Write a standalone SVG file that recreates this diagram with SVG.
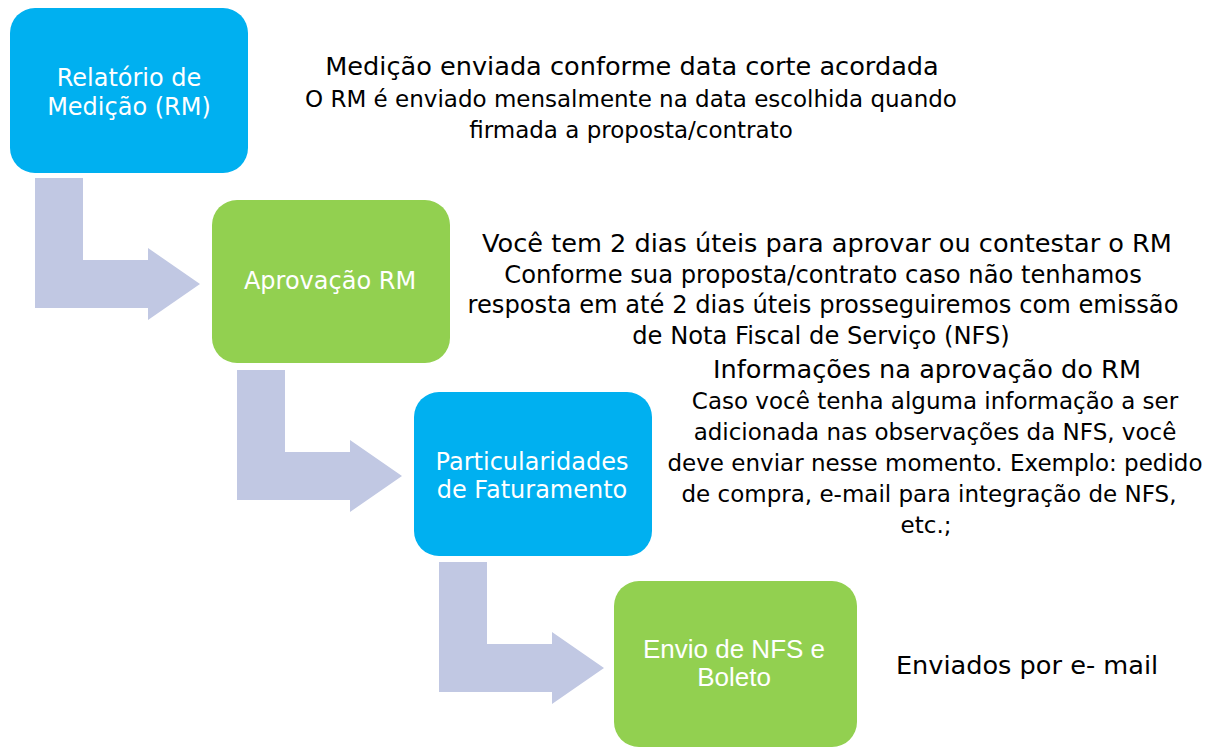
<svg xmlns="http://www.w3.org/2000/svg" width="1211" height="747" viewBox="0 0 1211 747">
<style>
.blue{fill:#00B0F0}
.green{fill:#92D050}
.arrow{fill:#C1C8E3}
.lbl{font-family:"DejaVu Sans",Verdana,sans-serif;fill:#FFFFFF;text-anchor:middle;font-size:24px}
.lbl2{font-family:"Liberation Sans",Arial,sans-serif;fill:#FFFFFF;text-anchor:middle;font-size:26px}
.t{font-family:"DejaVu Sans",Verdana,sans-serif;fill:#000000;text-anchor:middle}
.h{font-size:25.6px}
.b{font-size:23px}
.b2{font-size:24.2px}
</style>
<rect width="1211" height="747" fill="#FFFFFF"/>
<g id="connectors">
<polygon class="arrow" points="35,178 83,178 83,260 148,260 148,248 200,284 148,320 148,308 35,308"/>
<polygon class="arrow" points="237,370 285,370 285,452 350,452 350,440 402,476 350,512 350,500 237,500"/>
<polygon class="arrow" points="439,562 487,562 487,644 552,644 552,632 604,668 552,704 552,692 439,692"/>
</g>
<g id="node1">
<rect class="blue" x="10" y="8" width="238" height="165" rx="25"/>
<text class="lbl" x="129" y="86">Relatório de</text>
<text class="lbl" x="129" y="115">Medição (RM)</text>
</g>
<g id="node2">
<rect class="green" x="212" y="200" width="238" height="163" rx="25"/>
<text class="lbl" x="330" y="289">Aprovação RM</text>
</g>
<g id="node3">
<rect class="blue" x="414" y="392" width="238" height="164" rx="25"/>
<text class="lbl" x="532" y="470">Particularidades</text>
<text class="lbl" x="532" y="498">de Faturamento</text>
</g>
<g id="node4">
<rect class="green" x="614" y="581" width="243" height="166" rx="25"/>
<text class="lbl2" x="734" y="658">Envio de NFS e</text>
<text class="lbl2" x="734" y="686">Boleto</text>
</g>
<g id="desc1">
<text class="t h" x="632" y="75">Medição enviada conforme data corte acordada</text>
<text class="t b" x="631" y="107">O RM é enviado mensalmente na data escolhida quando</text>
<text class="t b" x="631" y="138">firmada a proposta/contrato</text>
</g>
<g id="desc2">
<text class="t h" x="827" y="252">Você tem 2 dias úteis para aprovar ou contestar o RM</text>
<text class="t b2" x="823" y="283">Conforme sua proposta/contrato caso não tenhamos</text>
<text class="t b2" x="823" y="313">resposta em até 2 dias úteis prosseguiremos com emissão</text>
<text class="t b2" x="821" y="344">de Nota Fiscal de Serviço (NFS)</text>
</g>
<g id="desc3">
<text class="t h" x="927" y="378">Informações na aprovação do RM</text>
<text class="t b" x="935" y="409">Caso você tenha alguma informação a ser</text>
<text class="t b" x="935" y="440">adicionada nas observações da NFS, você</text>
<text class="t b" x="935" y="471">deve enviar nesse momento. Exemplo: pedido</text>
<text class="t b" x="929" y="502">de compra, e-mail para integração de NFS,</text>
<text class="t b" x="926" y="533">etc.;</text>
</g>
<g id="desc4">
<text class="t h" x="1027" y="674">Enviados por e- mail</text>
</g>
</svg>
